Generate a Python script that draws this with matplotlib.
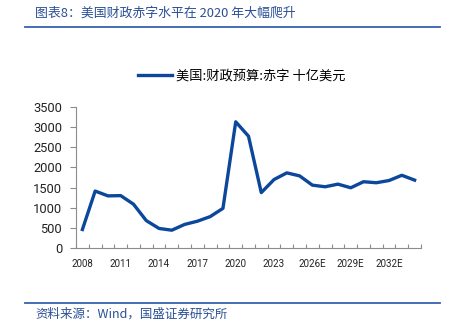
import matplotlib
matplotlib.use("Agg")
import matplotlib.pyplot as plt
import numpy as np

plt.rcParams["font.family"] = ["Roboto", "Noto Sans CJK SC", "DejaVu Sans"]

# ---------------------------------------------------------------------------
# Data: US federal budget deficit, billion USD (E = projection)
# ---------------------------------------------------------------------------

years = [
    "2008", "2009", "2010", "2011", "2012", "2013", "2014", "2015", "2016",
    "2017", "2018", "2019", "2020", "2021", "2022", "2023", "2024", "2025E",
    "2026E", "2027E", "2028E", "2029E", "2030E", "2031E", "2032E", "2033E", "2034E",
]
deficit = [
    459, 1413, 1294, 1300, 1087, 680, 485, 442, 585,
    665, 779, 984, 3132, 2775, 1375, 1700, 1865, 1790,
    1560, 1520, 1585, 1495, 1645, 1620, 1675, 1805, 1685,
]
y_ticks = [0, 500, 1000, 1500, 2000, 2500, 3000, 3500]

TITLE  = "图表8：美国财政赤字水平在 2020 年大幅爬升"
LEGEND = "美国:财政预算:赤字 十亿美元"
SOURCE = "资料来源：Wind，国盛证券研究所"

LINE_COLOR  = "#0B479B"
TITLE_COLOR = "#2A4F95"
RULE_COLOR  = "#3563AC"
AXIS_COLOR  = "#8C8C8C"
CJK = ["Noto Sans CJK SC", "DejaVu Sans"]

# ---------------------------------------------------------------------------
# Figure
# ---------------------------------------------------------------------------

W, H = 452, 326
fig = plt.figure(figsize=(W / 100, H / 100), dpi=100)

# header / footer
fig.text(35 / W, 1 - 13 / H, TITLE, family=CJK, style="italic", fontsize=9.3,
         color=TITLE_COLOR, ha="left", va="center")
fig.add_artist(plt.Line2D([25 / W, 440 / W], [1 - 26.5 / H] * 2,
                          color=RULE_COLOR, lw=1.3))
fig.add_artist(plt.Line2D([25 / W, 440 / W], [1 - 302.5 / H] * 2,
                          color=RULE_COLOR, lw=1.3))
fig.text(35 / W, 1 - 314 / H, SOURCE, family=CJK, style="italic", fontsize=9,
         color=TITLE_COLOR, ha="left", va="center")

# plot area
ax = fig.add_axes([76 / W, 1 - 248 / H, 345 / W, 141 / H])
x = np.arange(len(years))
ax.plot(x, deficit, color=LINE_COLOR, lw=2.4, solid_joinstyle="round",
        label=LEGEND)

ax.set_xlim(-0.5, len(years) - 0.5)
ax.set_ylim(0, 3500)
ax.set_yticks(y_ticks)
ax.set_yticklabels([str(v) for v in y_ticks], fontsize=9.3, color="#222222")

label_idx = list(range(0, len(years), 3))
ax.set_xticks(label_idx)
ax.set_xticklabels([years[i] for i in label_idx], fontsize=7, color="#222222")
ax.set_xticks(np.arange(-0.5, len(years)), minor=True)
ax.tick_params(axis="x", which="major", length=0, pad=8)
ax.tick_params(axis="x", which="minor", direction="in", length=3,
               color=AXIS_COLOR, width=0.8)
ax.tick_params(axis="y", direction="out", length=4, color=AXIS_COLOR,
               width=0.8, pad=6)

for side in ["top", "right"]:
    ax.spines[side].set_visible(False)
for side in ["left", "bottom"]:
    ax.spines[side].set_color(AXIS_COLOR)
    ax.spines[side].set_linewidth(0.8)

leg = fig.legend(loc="center", bbox_to_anchor=(242 / W, 1 - 76 / H),
                 frameon=False, prop={"family": CJK, "size": 9.5},
                 handlelength=2.6, handletextpad=0.3)

fig.savefig("out.png", dpi=100)
